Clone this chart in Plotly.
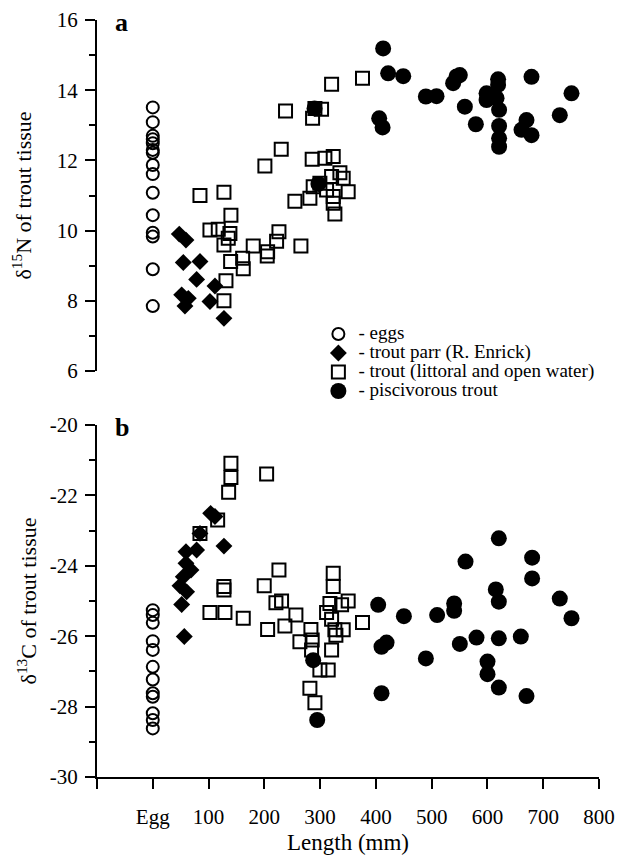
import plotly.graph_objects as go

# ---------------- data ----------------
# Panel a: delta15N
egg_n_x = [0] * 15
egg_n_y = [13.51, 13.09, 12.70, 12.60, 12.49, 12.30, 12.22, 11.87, 11.61, 11.08, 10.44, 9.94, 9.83, 8.90, 7.85]

parr_n_x = [47.5, 59.5, 54.7, 84.6, 78.6, 111.5, 51.8, 63.7, 57.7, 102.5, 127.6]
parr_n_y = [9.90, 9.73, 9.09, 9.12, 8.61, 8.42, 8.17, 8.07, 7.85, 7.98, 7.50]

trout_n_x = [320.6, 376.0, 238.0, 290.7, 302.6, 286.5, 230.3, 201.0, 285.8, 308.6, 323.5, 335.5,
             320.6, 341.4, 299.6, 287.6, 281.7, 254.8, 350.3, 323.5, 323.5, 326.5, 311.6, 84.6,
             127.6, 140.1, 102.5, 117.4, 138.3, 135.3, 127.6, 226.2, 222.0, 265.6, 180.1, 205.9,
             205.2, 161.1, 139.6, 162.2, 131.2, 127.6]
trout_n_y = [14.17, 14.34, 13.41, 13.48, 13.46, 13.20, 12.32, 11.84, 12.03, 12.06, 12.11, 11.65,
             11.54, 11.49, 11.35, 11.25, 10.92, 10.84, 11.11, 10.97, 10.78, 10.47, 11.16, 11.00,
             11.09, 10.44, 10.02, 10.04, 9.92, 9.78, 9.59, 9.97, 9.70, 9.56, 9.56, 9.40,
             9.28, 9.21, 9.12, 8.91, 8.57, 8.00]

pisc_n_x = [290.0, 297.0, 413.0, 422.0, 449.0, 405.9, 412.0, 489.6, 508.7, 544.6, 550.5, 538.5,
            559.5, 579.2, 598.4, 598.4, 619.1, 619.1, 616.3, 620.9, 620.9, 620.9, 620.9, 661.1,
            670.0, 679.0, 679.0, 750.7, 729.7]
pisc_n_y = [13.48, 11.33, 15.19, 14.48, 14.40, 13.20, 12.94, 13.82, 13.83, 14.39, 14.43, 14.20,
            13.53, 13.03, 13.91, 13.72, 14.31, 14.15, 13.77, 13.44, 12.98, 12.63, 12.39, 12.87,
            13.15, 12.72, 14.38, 13.91, 13.29]

# Panel b: delta13C
egg_c_x = [0] * 12
egg_c_y = [-25.26, -25.40, -25.62, -26.14, -26.39, -26.87, -27.23, -27.62, -27.72, -28.19, -28.38, -28.62]

parr_c_x = [103.7, 111.5, 84.6, 127.6, 78.6, 59.5, 59.5, 68.5, 54.7, 48.7, 60.7, 51.8, 56.5]
parr_c_y = [-22.51, -22.60, -23.08, -23.44, -23.55, -23.60, -23.93, -24.12, -24.31, -24.57, -24.74, -25.10, -26.01]

trout_c_x = [140.1, 140.1, 136.0, 204.1, 116.3, 84.6, 127.6, 127.6, 226.2, 199.8, 102.5, 129.4,
             162.2, 205.9, 220.8, 230.9, 236.9, 256.6, 263.8, 283.5, 285.8, 284.7, 299.6, 314.5,
             281.7, 290.7, 323.5, 323.5, 317.6, 311.6, 338.5, 350.3, 320.6, 326.5, 341.4, 328.3,
             320.6, 376.0]
trout_c_y = [-21.09, -21.49, -21.91, -21.39, -22.70, -23.08, -24.59, -24.69, -24.12, -24.57, -25.33, -25.33,
             -25.49, -25.81, -25.05, -25.00, -25.71, -25.40, -26.16, -25.81, -26.11, -26.39, -26.96, -26.96,
             -27.48, -27.89, -24.21, -24.59, -25.07, -25.33, -25.11, -25.00, -25.52, -25.82, -25.82, -25.97,
             -26.39, -25.61]

pisc_c_x = [287.6, 294.8, 404.1, 410.1, 419.1, 410.1, 450.2, 489.6, 509.8, 540.3, 540.3, 550.5,
            560.7, 580.4, 600.1, 600.1, 615.0, 620.4, 620.4, 620.4, 620.4, 659.8, 670.0, 680.1,
            680.1, 729.7, 750.7]
pisc_c_y = [-26.68, -28.38, -25.11, -26.30, -26.18, -27.62, -25.43, -26.63, -25.40, -25.07, -25.28, -26.22,
            -23.88, -26.04, -26.72, -27.08, -24.67, -25.02, -23.22, -26.06, -27.46, -26.01, -27.70, -23.77,
            -24.36, -24.93, -25.49]

series_names = ["- eggs", "- trout parr (R. Enrick)", "- trout (littoral and open water)", "- piscivorous trout"]

x_tickvals = [-100, 0, 100, 200, 300, 400, 500, 600, 700, 800]
x_ticktext = ["", "Egg", "100", "200", "300", "400", "500", "600", "700", "800"]
y1_tickvals = [6, 8, 10, 12, 14, 16]
y1_ticktext = ["6", "8", "10", "12", "14", "16"]
y2_tickvals = [-30, -28, -26, -24, -22, -20]
y2_ticktext = ["-30", "-28", "-26", "-24", "-22", "-20"]

# ---------------- figure ----------------
FONT = "Liberation Serif, Times New Roman, serif"
styles = [
    dict(symbol="circle-open", size=12, color="black", line=dict(width=2, color="black")),
    dict(symbol="diamond", size=13, color="black", line=dict(width=0)),
    dict(symbol="square-open", size=13, color="black", line=dict(width=2, color="black")),
    dict(symbol="circle", size=16, color="black", line=dict(width=0)),
]

fig = go.Figure()
top = [(egg_n_x, egg_n_y), (parr_n_x, parr_n_y), (trout_n_x, trout_n_y), (pisc_n_x, pisc_n_y)]
bot = [(egg_c_x, egg_c_y), (parr_c_x, parr_c_y), (trout_c_x, trout_c_y), (pisc_c_x, pisc_c_y)]
for i, ((xs, ys), name) in enumerate(zip(top, series_names)):
    fig.add_trace(go.Scatter(x=xs, y=ys, mode="markers",
                             name='<span style="font-size:19px">' + name + '</span>',
                             legendgroup=str(i), marker=styles[i], xaxis="x", yaxis="y",
                             showlegend=True))
for i, ((xs, ys), name) in enumerate(zip(bot, series_names)):
    fig.add_trace(go.Scatter(x=xs, y=ys, mode="markers", name=name, legendgroup=str(i),
                             marker=styles[i], xaxis="x2", yaxis="y2", showlegend=False))

yax_common = dict(showline=True, linecolor="black", linewidth=2, ticks="outside", ticklen=10,
                  tickwidth=2, tickcolor="black", showgrid=False, zeroline=False, automargin=False,
                  tickfont=dict(size=21, family=FONT, color="black"), ticklabelstandoff=3,
                  minor=dict(dtick=1, ticks="outside", ticklen=6, tickwidth=2, tickcolor="black"))

fig.update_layout(
    width=617, height=855,
    margin=dict(l=97, r=18, t=20, b=78, autoexpand=False),
    paper_bgcolor="white", plot_bgcolor="white",
    font=dict(family=FONT, color="black", size=20),
    showlegend=True,
    legend=dict(x=0.441, y=0.6044, xanchor="left", yanchor="top", bgcolor="rgba(0,0,0,0)",
                font=dict(size=12, family=FONT, color="black"), tracegroupgap=0,
                itemsizing="trace"),
    xaxis=dict(domain=[0, 1], range=[-100, 800], anchor="y", showline=False, showticklabels=False,
               ticks="", showgrid=False, zeroline=False, automargin=False),
    yaxis=dict(domain=[0.5363, 1], range=[6, 16], tickvals=y1_tickvals, ticktext=y1_ticktext,
               title=dict(text="δ<sup>15</sup>N of trout tissue", font=dict(size=22, family=FONT), standoff=19),
               **yax_common),
    xaxis2=dict(domain=[0, 1], range=[-100, 800], anchor="y2", showline=True, linecolor="black",
                linewidth=2, ticks="outside", ticklen=10, tickwidth=2, tickcolor="black",
                tickvals=x_tickvals, ticktext=x_ticktext, showgrid=False, zeroline=False,
                automargin=False,
                tickfont=dict(size=21, family=FONT, color="black"), ticklabelstandoff=10,
                title=dict(text="Length (mm)", font=dict(size=23, family=FONT), standoff=8)),
    yaxis2=dict(domain=[0, 0.4650], range=[-30, -20], tickvals=y2_tickvals, ticktext=y2_ticktext,
                anchor="x2",
                title=dict(text="δ<sup>13</sup>C of trout tissue", font=dict(size=22, family=FONT), standoff=7),
                **yax_common),
)

fig.add_annotation(text="<b>a</b>", xref="x domain", yref="y domain", x=0.032, y=1.04,
                   xanchor="left", yanchor="top", showarrow=False, font=dict(size=26, family=FONT))
fig.add_annotation(text="<b>b</b>", xref="x2 domain", yref="y2 domain", x=0.032, y=1.04,
                   xanchor="left", yanchor="top", showarrow=False, font=dict(size=26, family=FONT))

fig.write_html("out.html", config={"displayModeBar": False},
               post_script="document.body.style.margin='0';document.body.style.overflow='hidden';")
